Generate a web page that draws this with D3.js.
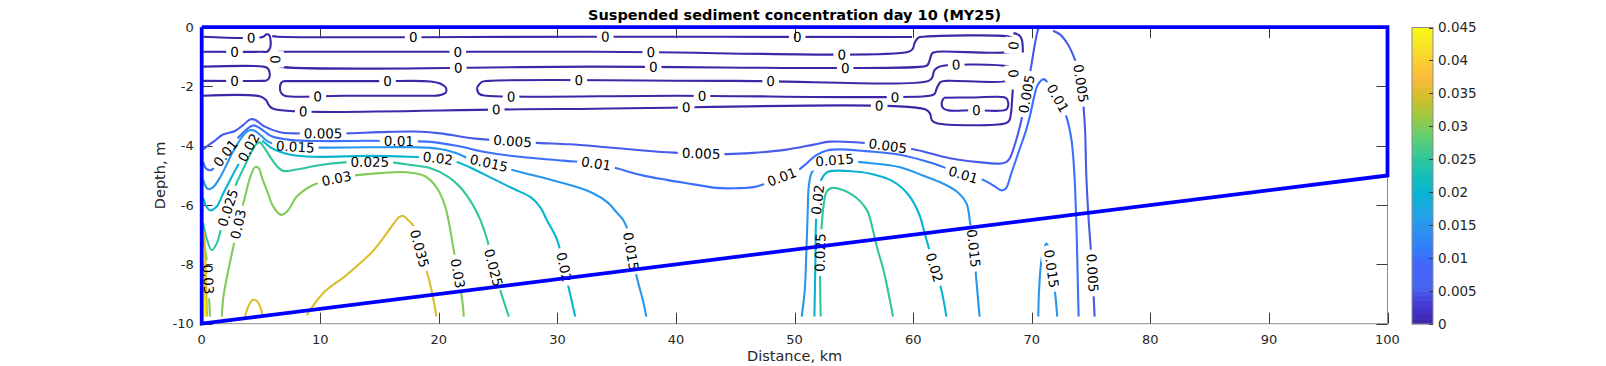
<!DOCTYPE html>
<html>
<head>
<meta charset="utf-8">
<script src="https://cdn.jsdelivr.net/npm/d3@7"></script>
<style>
  html, body { margin: 0; padding: 0; background: #fff; }
  svg { display: block; font-family: "DejaVu Sans", sans-serif; }
</style>
</head>
<body>
<script>
// ---------- données ----------
const title = "Suspended sediment concentration day 10 (MY25)";
const xLabel = "Distance, km";
const yLabel = "Depth, m";
const xTicks = [0, 10, 20, 30, 40, 50, 60, 70, 80, 90, 100];
const yTicks = [0, -2, -4, -6, -8, -10];
const cbTicks = [0, 0.005, 0.01, 0.015, 0.02, 0.025, 0.03, 0.035, 0.04, 0.045];
const cLim = [0, 0.045];

// contour du domaine (km, m)
const boundary = [[0, 0], [100, 0], [100, -5], [0, -10], [0, 0]];

// isolignes : [distance km, profondeur m]
// niveau 0
const z_u1 = [[0.12,-0.32],[5.2,-0.32],[5.45,-0.24],[5.7,-0.27],[5.8,-0.42],[5.78,-0.68],[5.55,-0.82],[5.0,-0.83],[0.12,-0.83]];
const z_u1_lab = [[4.2,-0.32],[2.8,-0.83]];
const z_a = [[5.95,-0.3],[6.4,-0.32],[33,-0.32],[59.9,-0.33]];
const z_a_lab = [[17.8,-0.32],[34.0,-0.32],[50.2,-0.32]];
const z_bc = [[6.5,-0.83],[33,-0.83],[59.6,-0.83],[59.95,-0.74],[60.15,-0.5],[60.45,-0.35],[60.9,-0.32],[68.1,-0.32],[68.35,-0.38],[68.45,-0.55],[68.45,-0.72],[68.3,-0.82],[62.0,-0.83],[61.6,-0.88],[61.4,-1.1],[61.2,-1.28],[60.8,-1.33],[33,-1.33],[6.6,-1.33],[6.3,-1.27],[6.2,-1.1],[6.25,-0.92],[6.5,-0.83]];
const z_bc_lab = [[21.6,-0.83],[37.9,-0.83],[54.0,-0.83],[21.6,-1.33],[38.1,-1.33],[54.3,-1.33],[6.2,-1.1],[68.45,-0.62]];
const z_l2 = [[0.12,-1.33],[5.2,-1.33],[5.55,-1.38],[5.72,-1.52],[5.7,-1.7],[5.45,-1.8],[5.0,-1.81],[0.12,-1.81]];
const z_l2_lab = [[2.8,-1.81]];
const z_l4 = [[6.9,-1.82],[15,-1.82],[19.3,-1.83],[20.1,-1.9],[20.6,-2.05],[20.6,-2.2],[20.0,-2.3],[19.0,-2.31],[12,-2.31],[7.0,-2.31],[6.7,-2.22],[6.6,-2.05],[6.7,-1.88],[6.9,-1.82]];
const z_l4_lab = [[15.7,-1.82],[9.8,-2.31]];
const z_de = [[23.2,-2.05],[23.6,-1.85],[24.2,-1.81],[45,-1.81],[61.3,-1.81],[61.6,-1.7],[61.8,-1.45],[62.2,-1.33],[68.1,-1.33],[68.35,-1.4],[68.45,-1.6],[68.3,-1.78],[62.8,-1.81],[62.3,-1.85],[62.0,-2.05],[61.8,-2.25],[61.4,-2.31],[40,-2.31],[24.0,-2.31],[23.4,-2.25],[23.2,-2.05]];
const z_de_lab = [[31.8,-1.81],[48.0,-1.81],[63.6,-1.33],[26.1,-2.31],[42.2,-2.31],[58.5,-2.31],[68.45,-1.55]];
const z_f = [[0.12,-2.31],[4.9,-2.33],[5.4,-2.45],[5.7,-2.65],[6.1,-2.76],[30,-2.76],[61.0,-2.77],[61.4,-2.9],[61.6,-3.15],[62.0,-3.24],[67.8,-3.24],[68.1,-3.15],[68.25,-2.9],[68.35,-2.4],[68.4,-2.1]];
const z_f_lab = [[8.6,-2.76],[24.8,-2.76],[40.9,-2.76],[57.1,-2.76]];
const z_loop = [[62.6,-2.38],[65,-2.37],[67.75,-2.37],[67.95,-2.45],[67.98,-2.7],[67.8,-2.79],[65,-2.8],[62.9,-2.8],[62.5,-2.72],[62.4,-2.55],[62.6,-2.38]];
const z_loop_lab = [[65.3,-2.8]];
const z_br = [[68.45,-0.2],[68.9,-0.26],[69.15,-0.4],[69.25,-0.85]];

// niveau 0.005
const c005a = [[0.12,-4.12],[0.5,-4.0],[1.0,-3.86],[1.8,-3.62],[2.8,-3.5],[3.5,-3.3],[4.07,-3.11],[4.5,-3.12],[5.2,-3.33],[6.6,-3.54],[7.7,-3.58],[10,-3.58],[12.1,-3.58],[15,-3.54],[17.9,-3.52],[20.1,-3.58],[22.9,-3.75],[26,-3.84],[28.3,-3.9],[31,-3.95],[33.6,-4.03],[37,-4.15],[39.8,-4.23],[42.2,-4.26],[44.3,-4.28],[46.5,-4.24],[49.3,-4.13],[51.6,-3.96],[53,-3.86],[56.3,-3.92],[58.2,-4.02],[60.3,-4.14],[63.1,-4.42],[65.5,-4.55],[67.3,-4.6],[67.8,-4.56],[68.1,-4.45],[68.5,-4.05],[68.9,-3.5],[69.2,-3.0],[69.5,-2.4],[69.75,-1.8],[70.0,-1.2],[70.25,-0.6],[70.45,-0.2],[70.55,-0.05]];
const c005a_lab = [[10.2,-3.58],[26.2,-3.84],[42.1,-4.26],[57.9,-4.0],[69.55,-2.25]];
const c005b = [[71.8,-0.12],[72.4,-0.25],[73.0,-0.55],[73.5,-0.95],[73.9,-1.4],[74.15,-1.9],[74.35,-2.6],[74.5,-3.5],[74.6,-5.0],[74.8,-6.5],[75.0,-7.6],[75.15,-8.5],[75.3,-9.76]];
const c005b_lab = [[74.2,-1.9],[75.1,-8.3]];

// niveau 0.01
const c010 = [[0.12,-4.55],[0.4,-4.78],[0.8,-4.82],[1.3,-4.6],[2.0,-4.25],[2.8,-3.85],[3.5,-3.55],[4.07,-3.36],[4.4,-3.31],[4.8,-3.38],[5.3,-3.52],[5.9,-3.68],[7.45,-3.8],[10,-3.84],[14,-3.83],[16.6,-3.84],[19,-3.86],[21.5,-4.0],[24,-4.22],[27,-4.38],[30.5,-4.5],[33.3,-4.6],[35,-4.76],[37,-4.98],[39.2,-5.15],[41.5,-5.3],[43.4,-5.42],[45,-5.43],[46.8,-5.37],[48.9,-5.05],[50.2,-4.85],[51.0,-4.6],[51.8,-4.32],[52.8,-4.15],[53.8,-4.12],[56,-4.18],[58.9,-4.3],[61.7,-4.6],[64.2,-4.97],[65.9,-5.15],[67.0,-5.4],[67.4,-5.5],[67.8,-5.45],[68.3,-4.9],[68.9,-4.2],[69.5,-3.5],[69.9,-2.9],[70.2,-2.35],[70.5,-1.95],[71.0,-1.75],[71.4,-1.9],[72.2,-2.4],[72.9,-3.0],[73.35,-3.8],[73.6,-5.0],[73.75,-6.5],[73.85,-8.0],[73.95,-9.76]];
const c010_lab = [[2.0,-4.25],[16.6,-3.84],[33.3,-4.6],[48.9,-5.05],[64.2,-4.97],[72.2,-2.4]];

// niveau 0.015
const c015a = [[0.12,-5.15],[0.5,-5.45],[0.9,-5.42],[1.5,-5.1],[2.0,-4.72],[2.5,-4.3],[3.0,-3.95],[3.6,-3.6],[4.1,-3.47],[4.5,-3.5],[5.0,-3.66],[5.6,-3.86],[6.5,-3.98],[7.9,-4.03],[10,-4.06],[14,-4.05],[18,-4.05],[20,-4.1],[21.5,-4.25],[22.8,-4.48],[24.2,-4.58],[25.7,-4.76],[27.5,-4.95],[29.5,-5.15],[31.3,-5.35],[33,-5.6],[34.2,-5.9],[35.0,-6.25],[35.55,-6.5],[36.0,-6.95],[36.2,-7.55],[36.5,-8.1],[36.8,-8.6],[37.2,-9.2],[37.5,-9.76]];
const c015a_lab = [[7.9,-4.03],[24.2,-4.58],[36.2,-7.55]];
const c015b = [[50.6,-9.76],[50.85,-8.9],[51.0,-7.5],[51.1,-6.3],[51.2,-5.35],[51.45,-4.9],[52.1,-4.62],[53.4,-4.48],[55.5,-4.55],[58.9,-4.72],[60.8,-5.0],[62.5,-5.27],[63.7,-5.55],[64.5,-5.95],[64.8,-6.6],[65.1,-7.45],[65.3,-8.4],[65.6,-9.76]];
const c015b_lab = [[53.4,-4.48],[65.1,-7.45]];
const c015c = [[70.55,-9.76],[70.6,-9.0],[70.75,-8.1],[70.95,-7.55],[71.25,-7.3],[71.45,-7.5],[71.65,-8.1],[71.95,-8.9],[72.15,-9.76]];
const c015c_lab = [[71.65,-8.15]];

// niveau 0.02
const c020a = [[0.12,-5.75],[0.4,-6.05],[0.7,-6.18],[1.26,-6.05],[1.82,-5.6],[2.4,-5.15],[3.0,-4.7],[3.6,-4.3],[4.07,-3.98],[4.4,-3.72],[4.65,-3.66],[5.2,-3.86],[5.8,-4.05],[6.6,-4.2],[7.5,-4.3],[9.4,-4.37],[14,-4.34],[17.5,-4.37],[19.9,-4.42],[21.5,-4.55],[23,-4.8],[24.5,-5.1],[26.3,-5.45],[27.8,-5.75],[28.6,-6.1],[29.1,-6.5],[29.9,-7.1],[30.4,-7.8],[30.9,-8.7],[31.5,-9.76]];
const c020a_lab = [[3.95,-4.05],[19.9,-4.42],[30.5,-8.1]];
const c020b = [[51.67,-9.76],[51.75,-8.0],[51.8,-6.6],[51.9,-6.0],[52.05,-5.5],[52.3,-5.1],[52.8,-4.88],[54.5,-4.85],[56.5,-4.95],[58.3,-5.2],[59.6,-5.65],[60.5,-6.3],[61.0,-7.0],[61.8,-8.1],[62.4,-8.9],[62.8,-9.76]];
const c020b_lab = [[51.95,-5.8],[61.8,-8.1]];

// niveau 0.025
const c025a = [[0.12,-6.6],[0.4,-7.1],[0.84,-7.52],[1.26,-7.3],[1.6,-6.85],[2.2,-6.1],[2.9,-5.3],[3.6,-4.7],[4.2,-4.2],[4.6,-3.95],[4.9,-3.88],[5.3,-4.08],[5.9,-4.45],[6.5,-4.75],[6.9,-4.85],[8,-4.8],[10,-4.65],[12,-4.56],[14.2,-4.54],[16,-4.56],[17.5,-4.64],[19.3,-4.76],[20.8,-5.05],[21.8,-5.4],[22.8,-5.95],[23.5,-6.5],[24.1,-7.2],[24.6,-8.1],[25.2,-8.9],[25.9,-9.76]];
const c025a_lab = [[2.2,-6.1],[14.2,-4.54],[24.6,-8.1]];
const c025b = [[52.2,-9.76],[52.15,-8.6],[52.15,-7.6],[52.3,-6.6],[52.45,-6.0],[52.7,-5.55],[53.2,-5.42],[54.9,-5.66],[56.1,-6.17],[56.6,-6.84],[57.0,-7.5],[57.5,-8.2],[58.3,-9.76]];
const c025b_lab = [[52.15,-7.6]];

// niveau 0.03
const c030a = [[1.7,-9.76],[1.83,-9.09],[2.25,-8.19],[2.67,-7.4],[3.1,-6.6],[3.65,-5.72],[4.1,-5.05],[4.5,-4.72],[4.8,-4.75],[5.1,-5.1],[5.5,-5.5],[6.04,-6.05],[6.7,-6.33],[7.3,-6.17],[8.0,-5.72],[9.4,-5.32],[11.4,-5.1],[13.1,-4.99],[15,-4.92],[17.3,-4.89],[18.8,-5.02],[19.8,-5.4],[20.5,-6.0],[20.9,-6.7],[21.2,-7.4],[21.6,-8.3],[22.0,-9.3],[22.1,-9.76]];
const c030a_lab = [[3.1,-6.65],[11.4,-5.1],[21.6,-8.3]];
const c030b = [[0.12,-7.1],[0.3,-7.5],[0.45,-7.95],[0.55,-8.5],[0.62,-9.1],[0.7,-9.76]];
const c030b_lab = [[0.55,-8.5]];

// niveaux 0.035 à 0.045
const c035a = [[8.85,-9.71],[10.3,-8.95],[12.2,-8.36],[14.5,-7.52],[16.2,-6.62],[16.65,-6.4],[17.0,-6.37],[17.4,-6.5],[17.85,-6.7],[18.4,-7.5],[19.1,-8.41],[19.5,-9.1],[19.8,-9.76]];
const c035a_lab = [[18.4,-7.45]];
const c035b = [[3.65,-9.76],[3.95,-9.4],[4.3,-9.2],[4.7,-9.25],[4.95,-9.45],[5.15,-9.76]];
const c035c = [[0.2,-6.9],[0.28,-7.6],[0.36,-8.5],[0.41,-9.2],[0.45,-9.76]];
const c040a = [[0.2,-7.9],[0.26,-8.8],[0.31,-9.76]];
const c045a = [[0.18,-9.1],[0.22,-9.5],[0.24,-9.76]];

// table des isolignes construite à partir des tableaux ci-dessus
const contours = [
  { level: 0, pts: z_u1, labels: z_u1_lab },
  { level: 0, pts: z_a, labels: z_a_lab },
  { level: 0, pts: z_bc, labels: z_bc_lab },
  { level: 0, pts: z_l2, labels: z_l2_lab },
  { level: 0, pts: z_l4, labels: z_l4_lab },
  { level: 0, pts: z_de, labels: z_de_lab },
  { level: 0, pts: z_f, labels: z_f_lab },
  { level: 0, pts: z_loop, labels: z_loop_lab },
  { level: 0, pts: z_br, labels: [] },
  { level: 0.005, pts: c005a, labels: c005a_lab },
  { level: 0.005, pts: c005b, labels: c005b_lab },
  { level: 0.01, pts: c010, labels: c010_lab },
  { level: 0.015, pts: c015a, labels: c015a_lab },
  { level: 0.015, pts: c015b, labels: c015b_lab },
  { level: 0.015, pts: c015c, labels: c015c_lab },
  { level: 0.02, pts: c020a, labels: c020a_lab },
  { level: 0.02, pts: c020b, labels: c020b_lab },
  { level: 0.025, pts: c025a, labels: c025a_lab },
  { level: 0.025, pts: c025b, labels: c025b_lab },
  { level: 0.03, pts: c030a, labels: c030a_lab },
  { level: 0.03, pts: c030b, labels: c030b_lab },
  { level: 0.035, pts: c035a, labels: c035a_lab },
  { level: 0.035, pts: c035b, labels: [] },
  { level: 0.035, pts: c035c, labels: [] },
  { level: 0.04, pts: c040a, labels: [] },
  { level: 0.045, pts: c045a, labels: [] }
];

// palette parula (un point sur quatre)
const parula = ["#3e26a8","#4537d5","#4867f0","#4563fc","#327cfc","#2b91ef","#20a5e3","#08b4d0","#18bfb6","#37c897","#63cd6f","#9dc943","#d1bf27","#f8ba3d","#fccf30","#f5e924","#f9fb15"];

// ---------- mise en page ----------
const W = 1606, H = 366;
const plot = { left: 201.7, right: 1387.5, top: 27.2, bottom: 323.7 };
const cb = { left: 1412, right: 1433, top: 27.5, bottom: 324 };
const labelFont = 13.5;

const x = d3.scaleLinear().domain([0, 100]).range([plot.left, plot.right]);
const y = d3.scaleLinear().domain([-10, 0]).range([plot.bottom, plot.top]);
const cmap = d3.scaleLinear()
  .domain(parula.map((d, i) => i === parula.length - 1 ? 1 : (i * 4) / 63))
  .range(parula)
  .interpolate(d3.interpolateRgb);
const levelColor = v => cmap((v - cLim[0]) / (cLim[1] - cLim[0]));

const svg = d3.select("body").append("svg")
  .attr("width", W).attr("height", H)
  .attr("viewBox", [0, 0, W, H]);

const defs = svg.append("defs");
defs.append("clipPath").attr("id", "plotClip")
  .append("rect")
  .attr("x", plot.left).attr("y", plot.top)
  .attr("width", plot.right - plot.left).attr("height", plot.bottom - plot.top);

// cadre des axes
svg.append("rect")
  .attr("x", plot.left).attr("y", plot.top)
  .attr("width", plot.right - plot.left).attr("height", plot.bottom - plot.top)
  .attr("fill", "#fff").attr("stroke", "#8c8c8c").attr("stroke-width", 1);

// graduations vers l'intérieur, sur les quatre côtés
const ticks = svg.append("g").attr("stroke", "#3a3a3a").attr("stroke-width", 1);
xTicks.forEach(t => {
  const px = Math.round(x(t)) + 0.5;
  ticks.append("line").attr("x1", px).attr("x2", px).attr("y1", plot.bottom).attr("y2", plot.bottom - 11);
  ticks.append("line").attr("x1", px).attr("x2", px).attr("y1", plot.top).attr("y2", plot.top + 11);
});
yTicks.forEach(t => {
  const py = Math.round(y(t)) + 0.5;
  ticks.append("line").attr("x1", plot.left).attr("x2", plot.left + 11).attr("y1", py).attr("y2", py);
  ticks.append("line").attr("x1", plot.right).attr("x2", plot.right - 11).attr("y1", py).attr("y2", py);
});

// libellés des graduations
svg.append("g").selectAll("text").data(xTicks).join("text")
  .attr("x", d => x(d)).attr("y", 344)
  .attr("text-anchor", "middle").attr("font-size", 13).attr("fill", "#262626")
  .text(d => d);
svg.append("g").selectAll("text").data(yTicks).join("text")
  .attr("x", plot.left - 8).attr("y", d => y(d)).attr("dy", "0.36em")
  .attr("text-anchor", "end").attr("font-size", 13).attr("fill", "#262626")
  .text(d => d);

// isolignes
const line = d3.line().x(d => x(d[0])).y(d => y(d[1])).curve(d3.curveCatmullRom.alpha(0.5));
const gLines = svg.append("g").attr("clip-path", "url(#plotClip)");
const gLabels = svg.append("g").attr("font-size", labelFont).attr("fill", "#000");

const fmt = v => String(+v.toFixed(3));

contours.forEach((c, i) => {
  const path = gLines.append("path")
    .attr("d", line(c.pts))
    .attr("fill", "none")
    .attr("stroke", levelColor(c.level))
    .attr("stroke-width", 2.1)
    .attr("stroke-linejoin", "round");
  if (!c.labels.length) return;

  const node = path.node();
  const len = node.getTotalLength();
  const samples = [];
  for (let s = 0; s <= len; s += 1) samples.push([s, node.getPointAtLength(s)]);

  const mask = defs.append("mask").attr("id", "m" + i)
    .attr("maskUnits", "userSpaceOnUse")
    .attr("x", 0).attr("y", 0).attr("width", W).attr("height", H);
  mask.append("rect").attr("width", W).attr("height", H).attr("fill", "#fff");

  c.labels.forEach(l => {
    const px = x(l[0]), py = y(l[1]);
    let best = samples[0], bd = Infinity;
    samples.forEach(sm => {
      const d = (sm[1].x - px) ** 2 + (sm[1].y - py) ** 2;
      if (d < bd) { bd = d; best = sm; }
    });
    const s = best[0];
    const a = node.getPointAtLength(Math.max(0, s - 7));
    const b = node.getPointAtLength(Math.min(len, s + 7));
    let ang = Math.atan2(b.y - a.y, b.x - a.x) * 180 / Math.PI;
    if (ang > 90) ang -= 180;
    if (ang <= -90) ang += 180;
    const p = best[1];
    const txt = gLabels.append("text")
      .attr("transform", `translate(${p.x},${p.y}) rotate(${ang})`)
      .attr("text-anchor", "middle").attr("dy", "0.36em")
      .text(fmt(c.level));
    const w = txt.node().getComputedTextLength();
    mask.append("rect")
      .attr("x", -w / 2 - 4).attr("y", -labelFont / 2 - 2)
      .attr("width", w + 8).attr("height", labelFont + 4)
      .attr("fill", "#000")
      .attr("transform", `translate(${p.x},${p.y}) rotate(${ang})`);
  });
  path.attr("mask", `url(#m${i})`);
});

// contour du domaine, dessiné par-dessus
svg.append("path")
  .attr("d", d3.line().x(d => x(d[0])).y(d => y(d[1]))(boundary))
  .attr("fill", "none").attr("stroke", "#0000ff").attr("stroke-width", 3.8)
  .attr("stroke-linejoin", "miter");

// barre de couleurs
const cy = d3.scaleLinear().domain(cLim).range([cb.bottom, cb.top]);
const nBands = 64;
const bandH = (cb.bottom - cb.top) / nBands;
svg.append("g").selectAll("rect").data(d3.range(nBands)).join("rect")
  .attr("x", cb.left).attr("width", cb.right - cb.left)
  .attr("y", d => cb.bottom - (d + 1) * bandH - 0.3).attr("height", bandH + 0.6)
  .attr("fill", d => cmap((d + 0.5) / nBands));
svg.append("rect")
  .attr("x", cb.left).attr("y", cb.top)
  .attr("width", cb.right - cb.left).attr("height", cb.bottom - cb.top)
  .attr("fill", "none").attr("stroke", "#8c8c8c").attr("stroke-width", 1);
const cbg = svg.append("g");
cbTicks.forEach(t => {
  const py = Math.round(cy(t)) + 0.5;
  cbg.append("line").attr("x1", cb.right).attr("x2", cb.right - 4)
    .attr("y1", py).attr("y2", py).attr("stroke", "#3a3a3a");
  cbg.append("text").attr("x", cb.right + 5).attr("y", cy(t)).attr("dy", "0.36em")
    .attr("font-size", 13.5).attr("fill", "#262626").text(fmt(t));
});

// titres
svg.append("text")
  .attr("x", (plot.left + plot.right) / 2).attr("y", 19.5)
  .attr("text-anchor", "middle").attr("font-size", 14.5).attr("font-weight", "bold")
  .attr("fill", "#000").text(title);
svg.append("text")
  .attr("x", (plot.left + plot.right) / 2).attr("y", 361)
  .attr("text-anchor", "middle").attr("font-size", 14.5).attr("fill", "#262626")
  .text(xLabel);
svg.append("text")
  .attr("transform", `translate(165,${(plot.top + plot.bottom) / 2}) rotate(-90)`)
  .attr("text-anchor", "middle").attr("font-size", 14.5).attr("fill", "#262626")
  .text(yLabel);
</script>
</body>
</html>
